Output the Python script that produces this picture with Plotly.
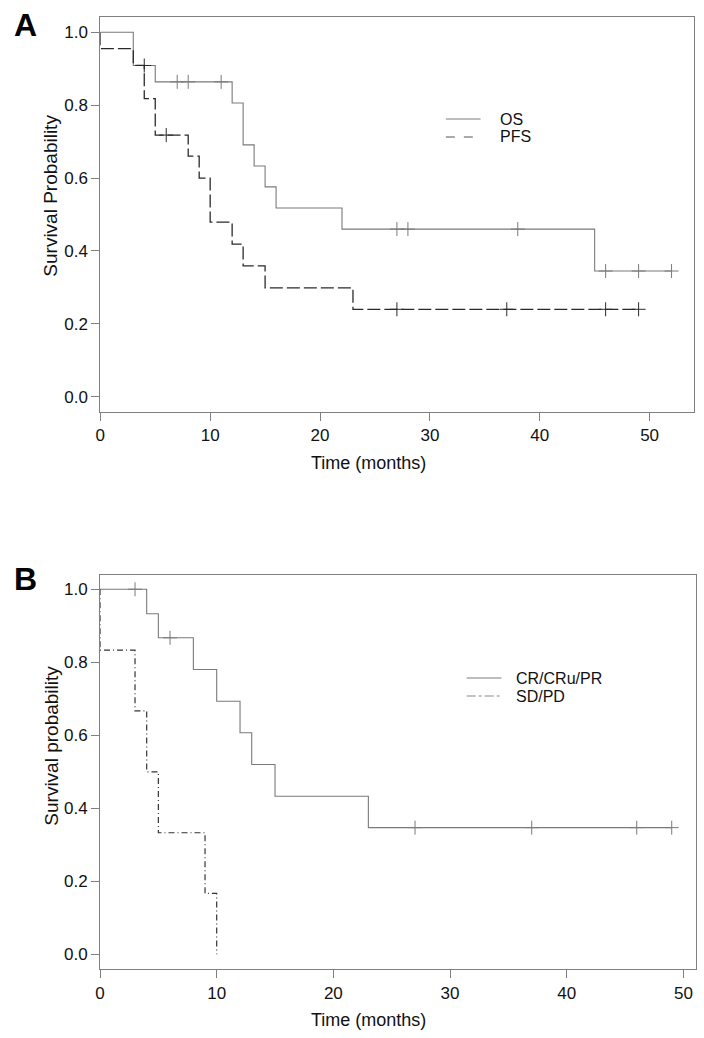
import numpy as np
import plotly.graph_objects as go

# ---------------- data: panel A ----------------
os_time = [0, 3, 5, 12, 13, 14, 15, 16, 22, 45, 52]
os_surv = [1.0, 0.909, 0.864, 0.806, 0.691, 0.633, 0.576, 0.518, 0.460, 0.345, 0.345]
os_censor = [7, 8, 11, 27, 28, 38, 46, 49, 52]

pfs_time = [0, 0, 3, 4, 5, 8, 9, 10, 12, 13, 15, 23, 49]
pfs_surv = [1.0, 0.955, 0.909, 0.818, 0.718, 0.660, 0.600, 0.479, 0.419, 0.359, 0.299, 0.240, 0.240]
pfs_censor = [4, 6, 27, 37, 46, 49]

# ---------------- data: panel B ----------------
cr_time = [0, 4, 5, 8, 10, 12, 13, 15, 23, 49]
cr_surv = [1.0, 0.933, 0.867, 0.780, 0.693, 0.607, 0.520, 0.433, 0.347, 0.347]
cr_censor = [3, 6, 27, 37, 46, 49]

sd_time = [0, 0, 3, 4, 5, 9, 10]
sd_surv = [1.0, 0.833, 0.667, 0.500, 0.333, 0.167, 0.0]

x_ticks = [0, 10, 20, 30, 40, 50]
y_ticks = [0.0, 0.2, 0.4, 0.6, 0.8, 1.0]

W, H = 704, 1038
FONT = "Liberation Sans, Arial, sans-serif"
AXCOL = "#808080"


def level_before(times, surv, t):
    i = int(np.searchsorted(np.asarray(times), t, side="left")) - 1
    i = max(i, 0)
    return surv[i]


def px(x):
    return x / W


def py(y):
    return 1 - y / H


fig = go.Figure()


def add_curve(times, surv, censor, color, dash, width, xa, ya, name):
    fig.add_trace(go.Scatter(
        x=times, y=surv, mode="lines", line=dict(shape="hv", color=color, dash=dash, width=width),
        xaxis=xa, yaxis=ya, showlegend=False, name=name, hoverinfo="skip"))
    if censor:
        fig.add_trace(go.Scatter(
            x=censor, y=[level_before(times, surv, t) for t in censor], mode="markers",
            marker=dict(symbol="cross-thin", size=10, line=dict(color=color, width=1), color=color),
            xaxis=xa, yaxis=ya, showlegend=False, name=name + " censored", hoverinfo="skip"))


add_curve(os_time, os_surv, os_censor, "#7a7a7a", "solid", 1.1, "x", "y", "OS")
add_curve(pfs_time, pfs_surv, pfs_censor, "#2a2a2a", "13px,4px", 1.3, "x", "y", "PFS")
add_curve(cr_time, cr_surv, cr_censor, "#7a7a7a", "solid", 1.1, "x2", "y2", "CR/CRu/PR")
add_curve(sd_time, sd_surv, [], "#333333", "6px,3px,1px,3px", 1.2, "x2", "y2", "SD/PD")

axis_common = dict(
    showline=True, mirror=True, linecolor=AXCOL, linewidth=1,
    ticks="outside", ticklen=8, tickcolor=AXCOL, tickwidth=1,
    showgrid=False, zeroline=False,
    tickfont=dict(family=FONT, size=17, color="#111111"),
)

fig.update_layout(
    width=W, height=H,
    margin=dict(l=0, r=0, t=0, b=0),
    paper_bgcolor="white", plot_bgcolor="white",
    xaxis=dict(domain=[px(96), px(694)], range=[0, 54.05], tickvals=x_ticks, anchor="y", **axis_common),
    yaxis=dict(domain=[py(411.7), py(17)], range=[-0.041, 1.042], tickvals=y_ticks,
               tickformat=".1f", anchor="x", **axis_common),
    xaxis2=dict(domain=[px(95.7), px(695.7)], range=[0, 51.06], tickvals=x_ticks, anchor="y2", **axis_common),
    yaxis2=dict(domain=[py(969.3), py(575)], range=[-0.041, 1.039], tickvals=y_ticks,
                tickformat=".1f", anchor="x2", **axis_common),
)

annots = []
# panel letters
annots.append(dict(x=px(21), y=py(25), text="<b>A</b>", font=dict(family=FONT, size=32, color="black")))
annots.append(dict(x=px(21), y=py(579), text="<b>B</b>", font=dict(family=FONT, size=32, color="black")))
# axis titles
annots.append(dict(x=px(366), y=py(463), text="Time (months)", font=dict(family=FONT, size=18, color="#111")))
annots.append(dict(x=px(366), y=py(1020), text="Time (months)", font=dict(family=FONT, size=18, color="#111")))
annots.append(dict(x=px(46), y=py(196), text="Survival Probability", textangle=-90,
                   font=dict(family=FONT, size=19, color="#111")))
annots.append(dict(x=px(46), y=py(746), text="Survival probability", textangle=-90,
                   font=dict(family=FONT, size=19, color="#111")))
for a in annots:
    a.update(xref="paper", yref="paper", showarrow=False, xanchor="center", yanchor="middle")

# legends (drawn manually)
legend_items = [
    ("OS", 444, 479, 497, 119, "#7a7a7a", "solid"),
    ("PFS", 444, 479, 497, 137, "#555555", "dash"),
    ("CR/CRu/PR", 465, 500, 513, 678, "#7a7a7a", "solid"),
    ("SD/PD", 465, 500, 513, 696, "#888888", "dashdot"),
]
shapes = []
for label, x0, x1, tx, y, col, dash in legend_items:
    shapes.append(dict(type="line", xref="paper", yref="paper", x0=px(x0), x1=px(x1), y0=py(y), y1=py(y),
                       line=dict(color=col, width=1, dash=dash)))
    annots.append(dict(xref="paper", yref="paper", x=px(tx), y=py(y), text=label, showarrow=False,
                       xanchor="left", yanchor="middle", font=dict(family=FONT, size=16, color="#111")))

fig.update_layout(annotations=annots, shapes=shapes)

fig.write_html("out.html", config={"displayModeBar": False},
               post_script="document.body.style.margin='0px';document.body.style.padding='0px';")
